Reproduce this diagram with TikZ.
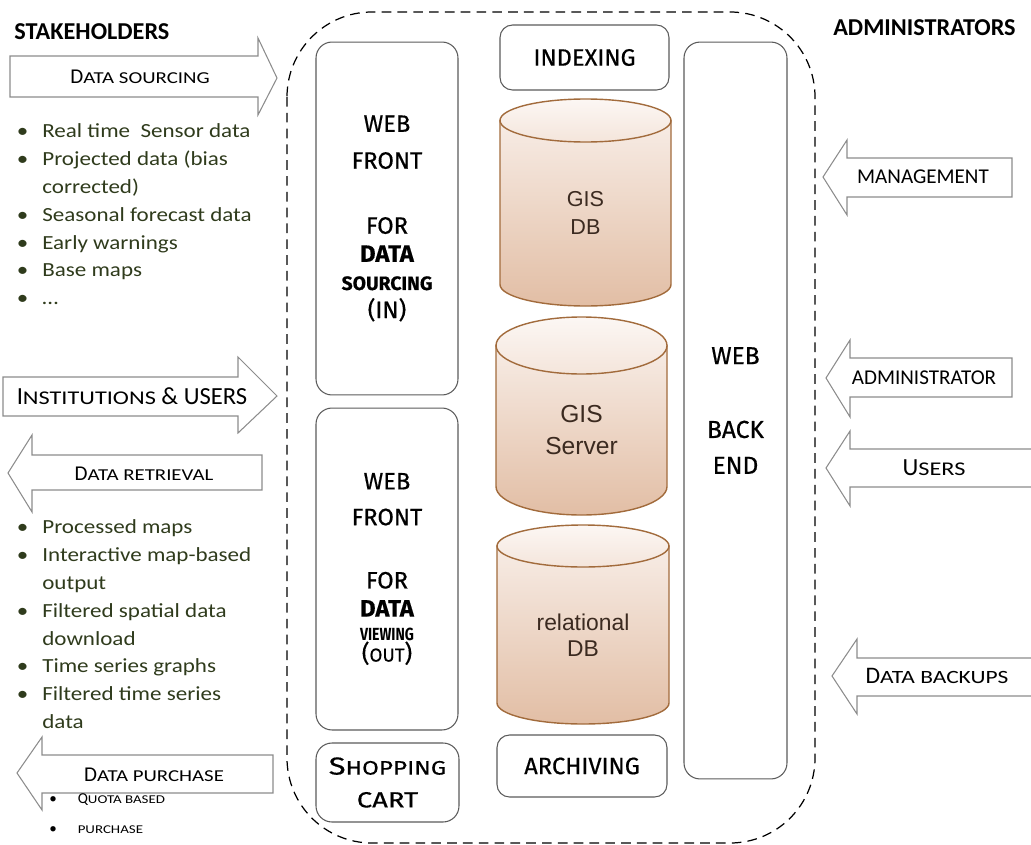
\documentclass[tikz,border=0pt]{standalone}
\usepackage{fontspec}
\setmainfont{Carlito}
\newfontfamily\listfont[FakeStretch=1.15]{Carlito}
\newfontfamily\scfont[FakeStretch=1.25]{Carlito}
\newfontfamily\boxfont[FakeBold=0.5]{Fira Sans}
\newfontfamily\boxwide[FakeStretch=1.25,FakeBold=0.5]{Fira Sans}
\newfontfamily\boxnarrow[FakeStretch=0.8]{Fira Sans}
\newfontfamily\dbfont{Liberation Sans}
\usetikzlibrary{positioning}

\definecolor{arrowgray}{HTML}{8C8C8C}
\definecolor{boxgray}{HTML}{5A5A5A}
\definecolor{listgreen}{HTML}{2F3B1C}
\definecolor{cyltop}{HTML}{F7ECE5}
\definecolor{cylbot}{HTML}{E2BEA5}
\definecolor{capa}{HTML}{FCF7F4}
\definecolor{capb}{HTML}{F4E5DB}
\definecolor{cylline}{HTML}{A26B3C}
\definecolor{cyltext}{HTML}{3B2A20}

\makeatletter
\newcommand{\scap}[1]{{\fontsize{\fpeval{0.79*\f@size}}{\f@baselineskip}\selectfont\MakeUppercase{#1}}}
\makeatother
\newcommand{\ascap}[1]{{\scfont\scap{#1}}}
\newcommand{\bul}[1][8pt]{\llap{\textbullet\hskip #1}}

% cylinder: [text style] name, centre x, x radius, top y, bottom y, y radius, text
\newcommand{\dbcan}[8][]{%
  \shade[top color=cyltop, bottom color=cylbot, draw=cylline, line width=0.8pt]
    ({#3-#4},#5) -- ({#3-#4},#6) arc[start angle=180, end angle=360, x radius={#4*0.02cm}, y radius={#7*0.02cm}] -- ({#3+#4},#5) -- cycle;
  \shade[top color=capa, bottom color=capb, draw=cylline, line width=0.8pt]
    (#3,#5) ellipse [x radius=#4, y radius=#7];
  \node[dbtext, #1] (#2) at (#3,{(#5+#6+#7)/2}) {#8};
}

\begin{document}
\begin{tikzpicture}[x=0.02cm, y=-0.02cm,
  blockarrow/.style={draw=arrowgray, fill=white, line width=0.6pt},
  arrowtext/.style={font=\fontsize{12}{14}\selectfont, text=black, inner sep=0},
  roundbox/.style={draw=boxgray, line width=0.6pt, rounded corners=0.32cm, align=center, inner sep=0,
    font=\boxfont\fontsize{13.5}{16}\selectfont},
  heading/.style={font=\bfseries\fontsize{13.8}{15}\selectfont, inner sep=0},
  bulletlist/.style={font=\listfont\fontsize{11.4}{15.9}\selectfont, text=listgreen, align=left,
    inner sep=0, anchor=north west},
  dbtext/.style={font=\dbfont, text=cyltext, align=center, inner sep=0}
]
\useasboundingbox (0,0) rectangle (1031,845);

% headings
\node[heading, anchor=west] (stakeholders) at (14,32) {STAKEHOLDERS};
\node[heading, anchor=east] (administrators) at (1016,28) {ADMINISTRATORS};

% platform
\draw[dashed, dash pattern=on 5.5pt off 3.5pt, line width=0.7pt, rounded corners=1.7cm] (287,12) rectangle (815,843);

\node[roundbox, minimum width=2.84cm, minimum height=7.06cm] (frontin) at (387,218.5)
  {WEB\\[5pt] FRONT\\[21pt] FOR\\ {\bfseries DATA}\\ {\bfseries\fontsize{11}{16}\selectfont SOURCING}\\ (IN)};
\node[roundbox, minimum width=2.84cm, minimum height=6.44cm] (frontout) at (387,569)
  {WEB\\[4.4pt] FRONT\\[20pt] FOR\\ {\bfseries DATA}\\[-2.4pt] {\boxnarrow\bfseries\fontsize{10}{16}\selectfont VIEWING}\\[-4pt] (\scap{out})};
\node[roundbox, minimum width=2.86cm, minimum height=1.58cm, font=\boxwide\fontsize{14}{16}\selectfont] (cart) at (387.5,782.5)
  {S\scap{hopping}\\[2.7pt] {\fontsize{12.5}{16}\selectfont CART}};
\node[roundbox, minimum width=3.38cm, minimum height=1.3cm, rounded corners=0.25cm] (indexing) at (584.5,57.5) {INDEXING};
\node[roundbox, minimum width=3.4cm, minimum height=1.24cm, rounded corners=0.25cm] (archiving) at (582,766) {ARCHIVING};
\node[roundbox, minimum width=2.06cm, minimum height=14.74cm, font=\boxfont\fontsize{14}{16}\selectfont] (backend) at (735.5,410.5)
  {WEB\\[26pt] BACK\\[4.4pt] END};

% databases
\dbcan[font=\dbfont\fontsize{12.3}{16}\selectfont]{gisdb}{585.5}{85.5}{120.5}{284.5}{21.5}{GIS\\DB}
\dbcan[font=\dbfont\fontsize{14}{18}\selectfont]{gisserver}{581.5}{85.5}{345.5}{486.5}{28.5}{GIS\\Server}
\dbcan[font=\dbfont\fontsize{13}{14.7}\selectfont]{relational}{583}{86}{546}{703}{21}{relational\\DB}

% stakeholder arrows
\draw[blockarrow] (10,56) -- (258,56) -- (258,38) -- (277,78) -- (258,115) -- (258,97) -- (10,97) -- cycle;
\node[arrowtext] (sourcing) at (140,77) {D\ascap{ata sourcing}};
\draw[blockarrow] (3,377) -- (238,377) -- (238,357) -- (277,396) -- (238,433) -- (238,416) -- (3,416) -- cycle;
\node[arrowtext, font=\fontsize{14}{16}\selectfont] (institutions) at (132,396) {I\ascap{nstitutions} \& USERS};
\draw[blockarrow] (8,473) -- (32,435) -- (32,455) -- (262,455) -- (262,490) -- (32,490) -- (32,512) -- cycle;
\node[arrowtext] (retrieval) at (144,474) {D\ascap{ata retrieval}};
\draw[blockarrow] (17,773) -- (42,737) -- (42,755) -- (273,755) -- (273,793) -- (42,793) -- (42,810) -- cycle;
\node[arrowtext] (purchase) at (154,775) {D\ascap{ata purchase}};

% administrator arrows
\draw[blockarrow] (823,177) -- (847,140) -- (847,158) -- (1012,158) -- (1012,197) -- (847,197) -- (847,215) -- cycle;
\node[arrowtext] (management) at (923,177) {MANAGEMENT};
\draw[blockarrow] (826,378) -- (850,340) -- (850,358) -- (1012,358) -- (1012,397) -- (850,397) -- (850,417) -- cycle;
\node[arrowtext] (administrator) at (924,378) {ADMINISTRATOR};
\draw[blockarrow] (826,468) -- (850,431) -- (850,449) -- (1034,449) -- (1034,487) -- (850,487) -- (850,506) -- cycle;
\node[arrowtext, font=\fontsize{14}{16}\selectfont] (users) at (934,468) {U\ascap{sers}};
\draw[blockarrow] (832,676) -- (857,639) -- (857,658) -- (1034,658) -- (1034,696) -- (857,696) -- (857,714) -- cycle;
\node[arrowtext, font=\fontsize{13.5}{16}\selectfont] (backups) at (937,676) {D\ascap{ata backups}};

% lists
\node[bulletlist] (sourcelist) at (42,123) {\bul Real time\ \ Sensor data\\ \bul Projected data (bias\\ corrected)\\
  \bul Seasonal forecast data\\ \bul Early warnings\\ \bul Base maps\\ \bul \ldots};
\node[bulletlist] (retrievallist) at (42,519) {\bul Processed maps\\ \bul Interactive map-based\\ output\\
  \bul Filtered spatial data\\ download\\ \bul Time series graphs\\ \bul Filtered time series\\ data};
\node[bulletlist, font=\fontsize{8.6}{17}\selectfont, text=black] (purchaselist) at (74,793)
  {\bul[10pt] Q\ascap{uota based}\\ \bul[10pt] \ascap{purchase}};
\end{tikzpicture}
\end{document}
